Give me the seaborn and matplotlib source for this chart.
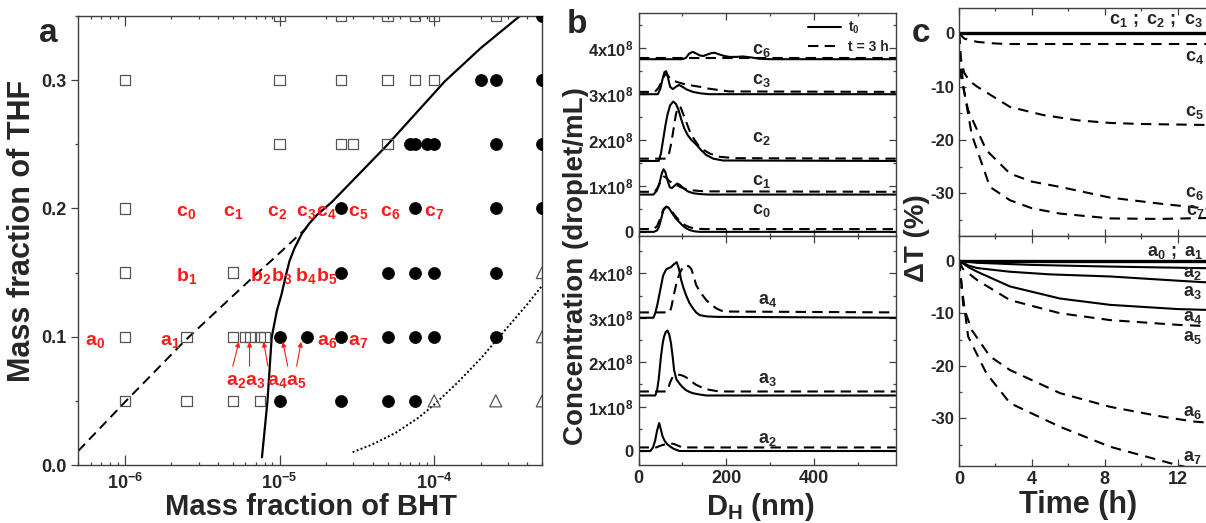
import matplotlib
matplotlib.use("Agg")
import matplotlib.pyplot as plt
import seaborn as sns

sns.set_style("ticks")
plt.rcParams["font.family"] = ["Liberation Sans", "DejaVu Sans"]
plt.rcParams["font.weight"] = "bold"
plt.rcParams["mathtext.fontset"] = "custom"
plt.rcParams["mathtext.rm"] = "Liberation Sans:bold"
plt.rcParams["mathtext.bf"] = "Liberation Sans:bold"
plt.rcParams["mathtext.sf"] = "Liberation Sans"
plt.rcParams["mathtext.it"] = "Liberation Sans:italic"

# ---------------- panel a : phase diagram ----------------
sq_bht = [1e-5, 2.5e-5, 5e-5, 7.5e-5, 1e-4, 2.5e-4,
          1e-6, 1e-5, 2.5e-5, 5e-5, 7.5e-5, 1e-4,
          1e-5, 2.5e-5, 3e-5, 5e-5,
          1e-6,
          1e-6, 5e-6,
          1e-6, 2.5e-6, 5e-6, 6e-6, 6.5e-6, 7.5e-6, 8e-6,
          1e-6, 2.5e-6, 5e-6, 7.5e-6]
sq_thf = [0.35] * 6 + [0.3] * 6 + [0.25] * 4 + [0.2] + [0.15] * 2 + [0.1] * 7 + [0.05] * 4

ci_bht = [5e-4,
          2e-4, 2.5e-4, 5e-4,
          7e-5, 7.5e-5, 9e-5, 1e-4, 2.5e-4, 5e-4,
          2.5e-5, 7.5e-5, 2.5e-4, 5e-4,
          2.5e-5, 5e-5, 7.5e-5, 1e-4, 2.5e-4,
          1e-5, 1.5e-5, 2.5e-5, 5e-5, 7.5e-5, 1e-4, 2.5e-4,
          1e-5, 2.5e-5, 5e-5, 7.5e-5]
ci_thf = [0.35] + [0.3] * 3 + [0.25] * 6 + [0.2] * 4 + [0.15] * 5 + [0.1] * 7 + [0.05] * 4

tr_bht = [5e-4, 5e-4, 1e-4, 2.5e-4, 5e-4]
tr_thf = [0.15, 0.1, 0.05, 0.05, 0.05]

solid_bht = [7.7e-6, 8.36e-6, 8.9e-6, 9.6e-6, 1.03e-5, 1.1e-5, 1.16e-5, 1.25e-5, 1.39e-5,
             1.55e-5, 1.75e-5, 2.18e-5, 4.93e-5, 1.17e-4, 2e-4, 3.58e-4]
solid_thf = [0.006, 0.05, 0.0995, 0.12, 0.133, 0.148, 0.159, 0.169, 0.18,
             0.188, 0.195, 0.205, 0.249, 0.299, 0.325, 0.35]
dash_bht = [5e-7, 1e-6, 2.45e-6, 7.1e-6, 8.8e-6, 1.5e-5]
dash_thf = [0.011, 0.049, 0.097, 0.149, 0.159, 0.185]
dot_bht = [2.97e-5, 3.98e-5, 5.62e-5, 7.94e-5, 1e-4, 1.41e-4, 2e-4, 2.82e-4, 3.98e-4, 5e-4]
dot_thf = [0.01, 0.016, 0.025, 0.037, 0.047, 0.064, 0.083, 0.104, 0.125, 0.14]

c_names = ["c_0", "c_1", "c_2", "c_3", "c_4", "c_5", "c_6", "c_7"]
c_lab_x = [2.48e-6, 5.0e-6, 9.7e-6, 1.48e-5, 2.0e-5, 3.2e-5, 5.2e-5, 1.0e-4]
b_names = ["b_1", "b_2", "b_3", "b_4", "b_5"]
b_lab_x = [2.5e-6, 7.5e-6, 1.03e-5, 1.48e-5, 2.02e-5]
a_names = ["a_0", "a_1", "a_6", "a_7"]
a_lab_x = [6.4e-7, 1.96e-6, 2.04e-5, 3.2e-5]
arrow_names = ["a_2", "a_3", "a_4", "a_5"]
arrow_lab_x = [5.2e-6, 7.0e-6, 9.6e-6, 1.29e-5]
arrow_tail_x = [4.99e-6, 6.4e-6, 8.41e-6, 1.13e-5, 1.29e-5]
arrow_tip_x = [5.46e-6, 6.4e-6, 7.89e-6, 1.05e-5, 1.38e-5]

# ---------------- panel b : size distributions (x1e8 droplet/mL) ----------------
b_top = {
    "c0_t0": ([0, 35, 42, 47, 52, 56, 60, 65, 69, 75, 84, 92, 99, 108, 116, 128, 140, 585],
              [0, 0, 0.03, 0.12, 0.3, 0.45, 0.52, 0.54, 0.52, 0.43, 0.3, 0.22, 0.15, 0.08,
               0.04, 0.01, 0, 0]),
    "c0_3h": ([0, 34, 42, 50, 56, 63, 70, 78, 86, 95, 105, 116, 130, 150, 585],
              [0.06, 0.06, 0.12, 0.3, 0.48, 0.55, 0.52, 0.42, 0.32, 0.22, 0.15, 0.1, 0.07,
               0.06, 0.06]),
    "c1_t0": ([0, 34, 42, 48, 53, 57, 61, 66, 71, 76, 82, 88, 94, 102, 112, 124, 140, 160, 585],
              [0.81, 0.81, 0.9, 1.07, 1.27, 1.36, 1.3, 1.12, 0.97, 0.95, 1.0, 1.05, 1.02, 0.95,
               0.88, 0.84, 0.82, 0.81, 0.81]),
    "c1_3h": ([0, 37, 45, 52, 58, 64, 70, 78, 86, 96, 110, 124, 150, 585],
              [0.87, 0.87, 0.98, 1.13, 1.2, 1.17, 1.1, 1.06, 1.02, 0.97, 0.92, 0.9, 0.88, 0.87]),
    "c2_t0": ([0, 46, 51, 56, 61, 66, 72, 79, 85, 91, 97, 104, 112, 120, 131, 142, 154, 170,
               192, 585],
              [1.54, 1.54, 1.7, 2.0, 2.3, 2.55, 2.75, 2.83, 2.78, 2.65, 2.45, 2.25, 2.1, 2.0,
               1.9, 1.78, 1.67, 1.59, 1.55, 1.54]),
    "c2_3h": ([0, 64, 70, 75, 80, 85, 90, 96, 102, 108, 116, 126, 136, 148, 162, 185, 220, 585],
              [1.59, 1.59, 1.72, 1.95, 2.25, 2.55, 2.72, 2.7, 2.55, 2.4, 2.2, 2.02, 1.88, 1.78,
               1.7, 1.63, 1.6, 1.59]),
    "c3_t0": ([0, 44, 50, 55, 59, 63, 67, 72, 78, 85, 92, 100, 110, 124, 140, 160, 585],
              [2.99, 2.99, 3.12, 3.33, 3.47, 3.49, 3.35, 3.15, 3.1, 3.15, 3.19, 3.15, 3.09,
               3.04, 3.01, 2.99, 2.99]),
    "c3_3h": ([0, 37, 45, 52, 58, 63, 68, 76, 86, 100, 120, 140, 160, 206, 585],
              [3.04, 3.04, 3.12, 3.25, 3.38, 3.44, 3.38, 3.3, 3.26, 3.22, 3.18, 3.15, 3.11,
               3.05, 3.04]),
    "c6_t0": ([0, 100, 108, 115, 123, 132, 140, 148, 156, 165, 173, 182, 195, 207, 222, 237,
               255, 275, 300, 585],
              [3.75, 3.75, 3.78, 3.87, 3.91, 3.87, 3.83, 3.82, 3.85, 3.88, 3.89, 3.86, 3.82,
               3.8, 3.8, 3.81, 3.79, 3.76, 3.75, 3.75]),
    "c6_3h": ([0, 585], [3.78, 3.78]),
}
b_bot = {
    "a2_t0": ([0, 27, 33, 38, 42, 47, 51, 55, 60, 66, 72, 80, 93, 585],
              [0, 0, 0.08, 0.24, 0.45, 0.63, 0.48, 0.32, 0.22, 0.15, 0.1, 0.05, 0, 0]),
    "a2_3h": ([0, 40, 50, 60, 70, 80, 90, 100, 585],
              [0.08, 0.08, 0.12, 0.15, 0.17, 0.16, 0.12, 0.08, 0.08]),
    "a3_t0": ([0, 38, 42, 46, 51, 55, 58, 62, 66, 70, 74, 78, 81, 86, 93, 100, 108, 116, 124,
               140, 154, 585],
              [1.25, 1.25, 1.35, 1.62, 2.12, 2.42, 2.57, 2.68, 2.71, 2.62, 2.42, 2.1, 1.82,
               1.62, 1.52, 1.44, 1.37, 1.33, 1.30, 1.27, 1.25, 1.25]),
    "a3_3h": ([0, 64, 68, 72, 78, 84, 89, 96, 102, 108, 116, 124, 131, 142, 154, 166, 177, 200,
               585],
              [1.34, 1.34, 1.42, 1.55, 1.67, 1.71, 1.72, 1.71, 1.69, 1.66, 1.6, 1.54, 1.49,
               1.44, 1.39, 1.37, 1.35, 1.34, 1.34]),
    "a4_t0": ([0, 34, 38, 43, 47, 51, 56, 63, 69, 74, 80, 87, 92, 97, 102, 108, 116, 124, 131,
               139, 155, 177, 585],
              [3.0, 3.0, 3.1, 3.3, 3.5, 3.7, 3.95, 4.09, 4.12, 4.14, 4.2, 4.25, 4.1, 3.85, 3.68,
               3.51, 3.33, 3.21, 3.12, 3.06, 3.03, 3.02, 3.0]),
    "a4_3h": ([0, 71, 75, 80, 85, 90, 96, 102, 108, 114, 120, 126, 131, 140, 154, 166, 177, 188,
               199, 585],
              [3.12, 3.12, 3.25, 3.5, 3.72, 3.9, 4.05, 4.15, 4.18, 4.16, 4.1, 3.92, 3.74, 3.58,
               3.40, 3.29, 3.21, 3.16, 3.14, 3.12]),
}
b_top_labels = ["c_6", "c_3", "c_2", "c_1", "c_0"]
b_top_lab_y = [3.93, 3.28, 2.02, 1.09, 0.46]
b_bot_labels = ["a_4", "a_3", "a_2"]
b_bot_lab_y = [3.38, 1.6, 0.25]

# ---------------- panel c : transmittance change (%) ----------------
c_top = {
    "c123": ([0, 14], [0, 0], "-"),
    "c4": ([0, 0.3, 1, 2, 2.8, 14], [0, -1.0, -1.6, -1.9, -2, -2], "--"),
    "c5": ([0, 0.1, 0.3, 0.6, 1, 1.9, 2.8, 4.6, 6.5, 8.3, 10.1, 14],
           [0, -5, -7.5, -9, -10, -11.9, -13.8, -15.3, -16.3, -16.8, -17, -17.2], "--"),
    "c6": ([0, 0.1, 0.5, 1.5, 2.8, 4, 5.55, 8.3, 11.2, 14],
           [0, -8, -14.4, -21.9, -26.3, -27.8, -28.8, -30.8, -32, -33], "--"),
    "c7": ([0, 0.1, 0.24, 0.7, 1.7, 2.8, 4, 5.55, 8.3, 11, 14],
           [0, -5, -10, -19, -28.8, -31.3, -32.8, -33.8, -34.7, -34.8, -34.6], "--"),
}
c_bot = {
    "a01": ([0, 14], [0, 0], "-"),
    "a2": ([0, 1, 4, 8, 14], [0, -0.4, -0.8, -1.1, -1.45], "-"),
    "a3": ([0, 0.5, 1, 2.8, 5, 8.3, 12, 14], [0, -0.9, -1.4, -2.1, -2.6, -3.0, -3.8, -4.2], "-"),
    "a4": ([0, 0.5, 1, 2.8, 5.55, 8.3, 12, 14], [0, -1.2, -2.1, -4.9, -7.2, -8.4, -9.2, -9.4], "-"),
    "a5": ([0, 0.2, 1, 2.8, 5.55, 8.3, 12, 14], [0, -1.5, -3.7, -7.5, -10, -11.3, -12.2, -12.5], "--"),
    "a6": ([0, 0.1, 0.24, 0.7, 1.7, 2.8, 5.55, 8.3, 11.2, 12.9, 14],
           [0, -3, -8.7, -13.2, -18.2, -20.8, -25.2, -27.8, -29.7, -30.6, -30.9], "--"),
    "a7": ([0, 0.15, 0.5, 1.5, 2.8, 5.55, 8.3, 12, 14],
           [0, -4.9, -14.4, -21.4, -27.1, -31.6, -35.4, -38.9, -40.5], "--"),
}
c_top_labels = [r"c_1\ ;\ c_2\ ;\ c_3", "c_4", "c_5", "c_6", "c_7"]
c_top_lab_xy = [(13.4, 2.5, "right"), (12.95, -4.6, "center"), (12.95, -14.8, "center"),
                (12.95, -30.0, "center"), (12.95, -33.4, "center")]
c_bot_labels = [r"a_0\ ;\ a_1", "a_2", "a_3", "a_4", "a_5", "a_6", "a_7"]
c_bot_lab_y = [1.5, -2.4, -6.0, -10.8, -14.6, -28.9, -37.4]

# ---------------- figure ----------------
W, H = 1206, 523
fig = plt.figure(figsize=(W / 100, H / 100), dpi=100)


def box(l, t, r, b):
    return [l / W, 1 - b / H, (r - l) / W, (b - t) / H]


ax_a = fig.add_axes(box(78.3, 16, 542.3, 465))
ax_b1 = fig.add_axes(box(638.5, 12.7, 895.7, 236))
ax_b2 = fig.add_axes(box(638.5, 236, 895.7, 465))
ax_c1 = fig.add_axes(box(959, 8.3, 1214, 236))
ax_c2 = fig.add_axes(box(959, 236, 1214, 465.7))

spine_col = "#404040"
for ax in [ax_a, ax_b1, ax_b2, ax_c1, ax_c2]:
    for sp in ax.spines.values():
        sp.set_color(spine_col)
        sp.set_linewidth(1.0)
    ax.tick_params(which="both", direction="in", top=True, right=True, color=spine_col, width=0.9)
    ax.tick_params(which="major", length=5)
    ax.tick_params(which="minor", length=2.5)

# panel a
sns.lineplot(x=solid_bht, y=solid_thf, ax=ax_a, color="k", lw=1.6, estimator=None, sort=False)
sns.lineplot(x=dash_bht, y=dash_thf, ax=ax_a, color="k", lw=1.4, linestyle=(0, (5, 3)),
             estimator=None, sort=False)
sns.lineplot(x=dot_bht, y=dot_thf, ax=ax_a, color="k", lw=1.4, linestyle=(0, (1, 1.2)),
             estimator=None, sort=False)
sns.scatterplot(x=sq_bht, y=sq_thf, ax=ax_a, marker="s", s=55, facecolor="none",
                edgecolor="#555555", linewidth=0.9, zorder=3)
sns.scatterplot(x=ci_bht, y=ci_thf, ax=ax_a, marker="o", s=75, color="k",
                edgecolor="k", linewidth=0.5, zorder=3)
sns.scatterplot(x=tr_bht, y=tr_thf, ax=ax_a, marker="^", s=75, facecolor="none",
                edgecolor="#555555", linewidth=0.9, zorder=3)
ax_a.set_xscale("log")
ax_a.set_xlim(5e-7, 5e-4)
ax_a.set_ylim(0, 0.35)
ax_a.set_xticks([1e-6, 1e-5, 1e-4])
ax_a.set_xticklabels([r"$\mathbf{10^{-6}}$", r"$\mathbf{10^{-5}}$", r"$\mathbf{10^{-4}}$"],
                     fontsize=13)
ax_a.xaxis.set_minor_locator(matplotlib.ticker.LogLocator(base=10, subs=range(2, 10), numticks=20))
ax_a.xaxis.set_minor_formatter(matplotlib.ticker.NullFormatter())
ax_a.set_yticks([0, 0.1, 0.2, 0.3])
ax_a.set_yticklabels(["0.0", "0.1", "0.2", "0.3"], fontsize=13)
ax_a.set_yticks([0.05, 0.15, 0.25, 0.35], minor=True)
ax_a.tick_params(axis="y", which="both", direction="out", right=False)
ax_a.tick_params(axis="x", which="major", length=7, pad=6)
ax_a.set_xlabel("")
ax_a.set_ylabel("")

red = "#ff1a1a"
for name, x in zip(c_names, c_lab_x):
    ax_a.text(x, 0.197, r"$\mathbf{%s}$" % name, color=red, fontsize=14, ha="center", va="center")
for name, x in zip(b_names, b_lab_x):
    ax_a.text(x, 0.147, r"$\mathbf{%s}$" % name, color=red, fontsize=14, ha="center", va="center")
for name, x in zip(a_names, a_lab_x):
    ax_a.text(x, 0.096, r"$\mathbf{%s}$" % name, color=red, fontsize=14, ha="center", va="center")
for name, x in zip(arrow_names, arrow_lab_x):
    ax_a.text(x, 0.065, r"$\mathbf{%s}$" % name, color=red, fontsize=14, ha="center", va="center")
for xt, xh in zip(arrow_tail_x, arrow_tip_x):
    ax_a.annotate("", xy=(xh, 0.096), xytext=(xt, 0.077),
                  arrowprops=dict(arrowstyle="-|>", color=red, lw=0.8, mutation_scale=7,
                                  shrinkA=0, shrinkB=0))

# panel b
for key, (d, v) in b_top.items():
    ls = "-" if key.endswith("t0") else (0, (5, 3))
    lab = None
    if key == "c6_t0":
        lab = r"$\mathbf{t_0}$"
    if key == "c6_3h":
        lab = "t = 3 h"
    sns.lineplot(x=d, y=v, ax=ax_b1, color="k", lw=1.5, linestyle=ls, estimator=None,
                 sort=False, label=lab)
for key, (d, v) in b_bot.items():
    ls = "-" if key.endswith("t0") else (0, (5, 3))
    sns.lineplot(x=d, y=v, ax=ax_b2, color="k", lw=1.5, linestyle=ls, estimator=None, sort=False)

ax_b1.legend(loc="upper right", frameon=False, fontsize=10, handlelength=2.4,
             borderaxespad=0.1, labelspacing=0.3, handletextpad=0.5)
for name, y in zip(b_top_labels, b_top_lab_y):
    ax_b1.text(280, y, r"$\mathbf{%s}$" % name, fontsize=13, ha="center", va="center")
for name, y in zip(b_bot_labels, b_bot_lab_y):
    ax_b2.text(293, y, r"$\mathbf{%s}$" % name, fontsize=13, ha="center", va="center")

b_ticklabels = ["0", r"$\mathbf{1x10^8}$", r"$\mathbf{2x10^8}$", r"$\mathbf{3x10^8}$",
                r"$\mathbf{4x10^8}$"]
for ax, lo, hi in [(ax_b1, -0.09, 4.76), (ax_b2, -0.315, 4.84)]:
    ax.set_xlim(0, 585)
    ax.set_ylim(lo, hi)
    ax.set_xticks([0, 200, 400])
    ax.set_xticks([100, 300, 500], minor=True)
    ax.set_yticks([0, 1, 2, 3, 4])
    ax.set_yticks([0.5, 1.5, 2.5, 3.5, 4.5], minor=True)
    ax.set_yticklabels(b_ticklabels, fontsize=12)
    ax.set_xlabel("")
    ax.set_ylabel("")
ax_b1.set_xticklabels([])
ax_b2.set_xticklabels(["0", "200", "400"], fontsize=13)

# panel c
for ax, curves in [(ax_c1, c_top), (ax_c2, c_bot)]:
    for key, (t, v, ls) in curves.items():
        lw = 2.4 if key in ("c123", "a01") else 1.5
        style = "-" if ls == "-" else (0, (5, 3.5))
        sns.lineplot(x=t, y=v, ax=ax, color="k", lw=lw, linestyle=style, estimator=None, sort=False)
    ax.set_xlim(0, 14)
    ax.set_xticks([0, 4, 8, 12])
    ax.set_xticks([2, 6, 10], minor=True)
    ax.set_yticks([0, -10, -20, -30])
    ax.set_yticks([-5, -15, -25, -35], minor=True)
    ax.set_yticklabels(["0", "-10", "-20", "-30"], fontsize=12)
    ax.set_xlabel("")
    ax.set_ylabel("")
ax_c1.set_ylim(-38, 4.7)
ax_c2.set_ylim(-39, 4.7)
ax_c1.set_xticklabels([])
ax_c2.set_xticklabels(["0", "4", "8", "12"], fontsize=13)

for name, (x, y, ha) in zip(c_top_labels, c_top_lab_xy):
    ax_c1.text(x, y, r"$\mathsf{%s}$" % name, fontsize=13, ha=ha, va="center")
for name, y in zip(c_bot_labels, c_bot_lab_y):
    ha = "right" if ";" in name else "center"
    x = 13.4 if ";" in name else 12.83
    ax_c2.text(x, y, r"$\mathsf{%s}$" % name, fontsize=13, ha=ha, va="center")

# labels
def ftext(x, y, s, **kw):
    fig.text(x / W, 1 - y / H, s, **kw)


ftext(48, 42, "a", fontsize=24, ha="center", va="baseline")
ftext(577, 33, "b", fontsize=24, ha="center", va="baseline")
ftext(921, 42, "c", fontsize=24, ha="center", va="baseline")
ftext(22, 231, "Mass fraction of THF", fontsize=22, rotation=90, ha="center", va="center")
ftext(311, 507, "Mass fraction of BHT", fontsize=21, ha="center", va="center")
ftext(576, 266, "Concentration (droplet/mL)", fontsize=20, rotation=90, ha="center", va="center")
ftext(760, 507, r"D$_\mathbf{H}$ (nm)", fontsize=21, ha="center", va="center")
ftext(917, 238, "ΔT (%)", fontsize=20, rotation=90, ha="center", va="center")
ftext(1078, 505, "Time (h)", fontsize=22, ha="center", va="center")

fig.savefig("out.png", dpi=100)
